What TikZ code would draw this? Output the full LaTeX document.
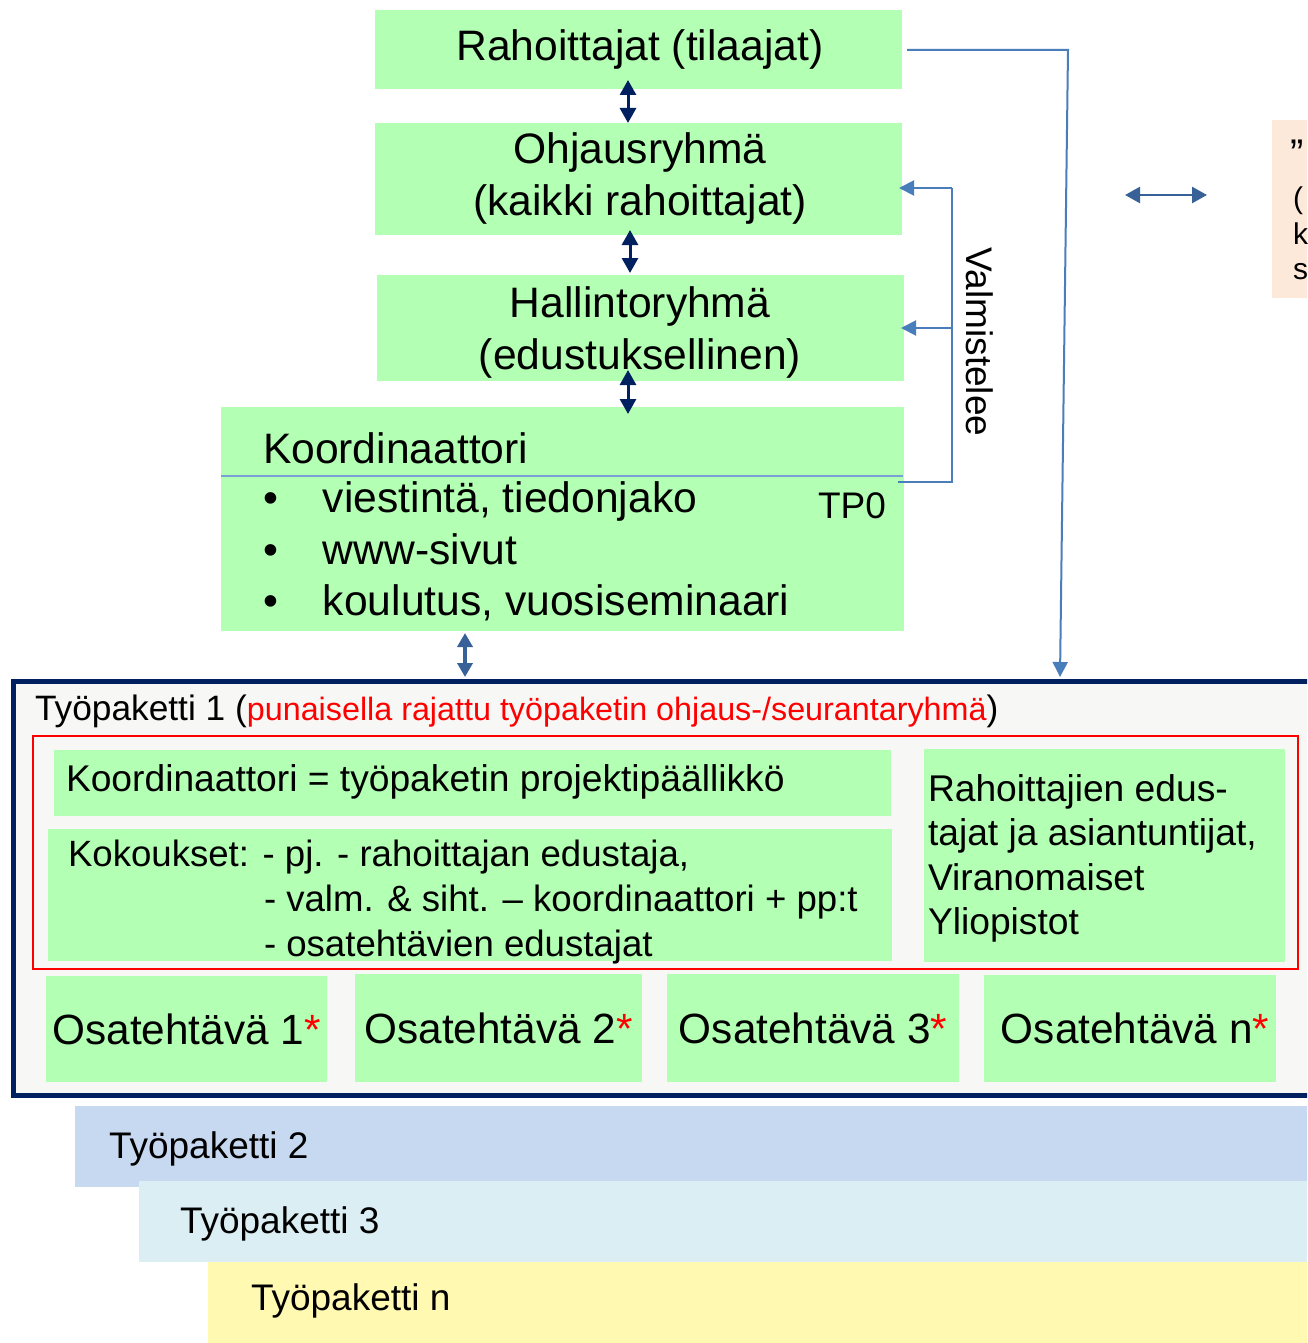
\documentclass[tikz,border=0pt]{standalone}
\usepackage{fontspec}
\setmainfont{Liberation Sans}
\usetikzlibrary{arrows.meta,calc}
\definecolor{gfill}{RGB}{179,255,179}
\definecolor{navy}{RGB}{0,32,96}
\definecolor{steel}{RGB}{56,97,151}
\definecolor{lblue}{RGB}{74,126,187}
\definecolor{sepblue}{RGB}{120,160,210}
\definecolor{tpfill}{RGB}{247,247,245}
\definecolor{tptwo}{RGB}{198,217,240}
\definecolor{tpthree}{RGB}{219,238,243}
\definecolor{tpnfill}{RGB}{255,249,178}
\definecolor{peach}{RGB}{253,233,217}
\begin{document}
\begin{tikzpicture}[x=1pt,y=-1pt,
  box/.style={fill=gfill, draw=none, inner sep=0pt, outer sep=0pt, anchor=north west},
  bigf/.style={font=\fontsize{42.6}{51}\selectfont},
  midf/.style={font=\fontsize{37.2}{44.5}\selectfont},
  kokf/.style={font=\fontsize{36.6}{44.5}\selectfont},
  osf/.style={font=\fontsize{42.3}{49}\selectfont},
  tpf/.style={font=\fontsize{37}{43}\selectfont},
  txc/.style={anchor=base, inner sep=0pt, outer sep=0pt},
  txw/.style={anchor=base west, inner sep=0pt, outer sep=0pt},
  navyarr/.style={draw=navy, line width=3pt, {Triangle[width=16pt,length=15pt]}-{Triangle[width=16pt,length=15pt]}},
  bluearr/.style={draw=steel, line width=3.5pt, {Triangle[width=15pt,length=14pt]}-{Triangle[width=15pt,length=14pt]}},
  bluearrtwo/.style={draw=steel, line width=2.5pt, {Triangle[width=16pt,length=15pt]}-{Triangle[width=16pt,length=15pt]}},
  vline/.style={draw=lblue, line width=2pt},
  vtip/.style={-{Triangle[width=15pt,length=15pt]}},
  tpband/.style={anchor=north west, inner sep=0pt, outer sep=0pt, draw=none}
]
\clip (0,0) rectangle (1307,1343);
\fill[white] (0,0) rectangle (1307,1343);

% --- work package stack (bottom) ---
\node[tpband, fill=tptwo, minimum width=1260pt, minimum height=81pt] (tp2) at (75,1106) {};
\node[tpf, txw] (tp2T) at (109,1158) {Työpaketti 2};
\node[tpband, fill=tpthree, minimum width=1200pt, minimum height=81pt] (tp3) at (139,1181) {};
\node[tpf, txw] (tp3T) at (180,1233) {Työpaketti 3};
\node[tpband, fill=tpnfill, minimum width=1120pt, minimum height=85pt] (tpn) at (208,1262) {};
\node[tpf, txw] (tpnT) at (251,1310) {Työpaketti n};

% --- Work package 1 ---
\node[draw=navy, line width=5pt, fill=tpfill, anchor=north west, minimum width=1320pt, minimum height=413.5pt, inner sep=0pt, outer sep=0pt] (tp1) at (13,681.5) {};
\node[font=\fontsize{35.3}{42}\selectfont, txw] (h1) at (35,720) {Työpaketti 1 ({\fontsize{32.3}{38}\selectfont\color{red}punaisella rajattu työpaketin ohjaus-/seurantaryhmä})};
\node[draw=red, line width=1.5pt, anchor=north west, minimum width=1265pt, minimum height=233pt, inner sep=0pt, outer sep=0pt] (redr) at (33,736) {};
\node[box, minimum width=837pt, minimum height=66pt] (kpp) at (54,750) {};
\node[box, minimum width=844pt, minimum height=132pt] (kok) at (48,829) {};
\node[box, minimum width=361pt, minimum height=213pt] (rahtwo) at (924,749) {};
\node[midf, txw] (kppT) at (66,791) {Koordinaattori = työpaketin projektipäällikkö};
\node[kokf, txw] (kokA) at (68,866) {Kokoukset: - pj. - rahoittajan edustaja,};
\node[kokf, txw] (kokB) at (264,911) {- valm. \& siht. – koordinaattori + pp:t};
\node[kokf, txw] (kokC) at (264,956) {- osatehtävien edustajat};
\node[midf, txw] (rA) at (928,801) {Rahoittajien edus-};
\node[midf, txw] (rB) at (928,845) {tajat ja asiantuntijat,};
\node[midf, txw] (rC) at (928,890) {Viranomaiset};
\node[midf, txw] (rD) at (928,934) {Yliopistot};
\node[box, osf, minimum width=281pt, minimum height=106pt] (o1) at (46,976) {Osatehtävä 1\textcolor{red}{*}};
\node[box, osf, minimum width=287pt, minimum height=108pt] (o2) at (355,974) {Osatehtävä 2\textcolor{red}{*}};
\node[box, osf, minimum width=292pt, minimum height=108pt] (o3) at (667,974) {Osatehtävä 3\textcolor{red}{*}};
\node[box, osf, minimum width=292pt, minimum height=107pt] (o4) at (984,975) {\hspace*{10pt}Osatehtävä n\textcolor{red}{*}};

% --- top hierarchy ---
\node[box, minimum width=527pt, minimum height=79pt] (rah) at (375,10) {};
\node[box, minimum width=527pt, minimum height=112pt] (ohj) at (375,123) {};
\node[box, minimum width=527pt, minimum height=106pt] (hal) at (377,275) {};
\node[box, minimum width=683pt, minimum height=224pt] (koo) at (221,407) {};
\node[bigf, txc] (rahT) at (640,61) {Rahoittajat (tilaajat)};
\node[bigf, txc] (ohjA) at (640,164) {Ohjausryhmä};
\node[bigf, txc] (ohjB) at (640,215) {(kaikki rahoittajat)};
\node[bigf, txc] (halA) at (640,317) {Hallintoryhmä};
\node[bigf, txc] (halB) at (640,369) {(edustuksellinen)};
\draw[draw=sepblue, line width=1.5pt] ($(koo.north west)+(0,69)$) -- ($(koo.north east)+(-1,69)$);
\node[bigf, txw] (kooT) at (263,463) {Koordinaattori};
\node[bigf, txw] (bA) at (263,512) {\makebox[60pt][l]{•}viestintä, tiedonjako};
\node[bigf, txw] (bB) at (263,564) {\makebox[60pt][l]{•}www-sivut};
\node[bigf, txw] (bC) at (263,615) {\makebox[60pt][l]{•}koulutus, vuosiseminaari};
\node[tpf, txw] (tpzero) at (818,518) {TP0};

% --- peach box (cut off at right edge) ---
\node[fill=peach, anchor=north west, minimum width=60pt, minimum height=178pt, inner sep=0pt, outer sep=0pt] (peach) at (1272,120) {};
\node[font=\fontsize{40}{44}\selectfont, txw] (pA) at (1290,168) {”};
\node[font=\fontsize{30}{35}\selectfont, txw] (pB) at (1293,208) {(};
\node[font=\fontsize{30}{35}\selectfont, txw] (pC) at (1293,244) {k};
\node[font=\fontsize{30}{35}\selectfont, txw] (pD) at (1293,279) {s};

% --- connectors ---
\draw[navyarr] ($(rah.south)+(-10.5,-9)$) -- ($(ohj.north)+(-10.5,0)$);
\draw[navyarr] ($(ohj.south)+(-8.5,-5)$) -- ($(hal.north)+(-10.5,-2)$);
\draw[navyarr] ($(hal.south)+(-12.5,-11)$) -- ($(koo.north)+(65.5,7)$);
\draw[bluearr] ($(koo.south)+(-97.5,2)$) -- ($(tp1.north)+(-208,-4.5)$);

\coordinate (vb) at (952,482);
\coordinate (vt) at (952,188);
\coordinate (vm) at (952,328);
\draw[vline] ($(koo.north east)+(-6,75)$) -- (vb) -- (vt);
\draw[vline, vtip] (vt) -- ($(ohj.east |- vt)+(-3,0)$);
\draw[vline, vtip] (vm) -- ($(hal.east |- vm)+(-3,0)$);
\node[font=\fontsize{37}{43}\selectfont, rotate=-90, inner sep=0pt] (val) at (980,342) {Valmistelee};

\coordinate (lt) at (1068,50);
\draw[vline, vtip] ($(rah.east)+(5,0.5)$) -- (lt) -- ($(tp1.north)+(387,-4.5)$);

\draw[bluearrtwo] ($(peach.west)+(-147,-14)$) -- ($(peach.west)+(-65,-14)$);
\end{tikzpicture}
\end{document}
